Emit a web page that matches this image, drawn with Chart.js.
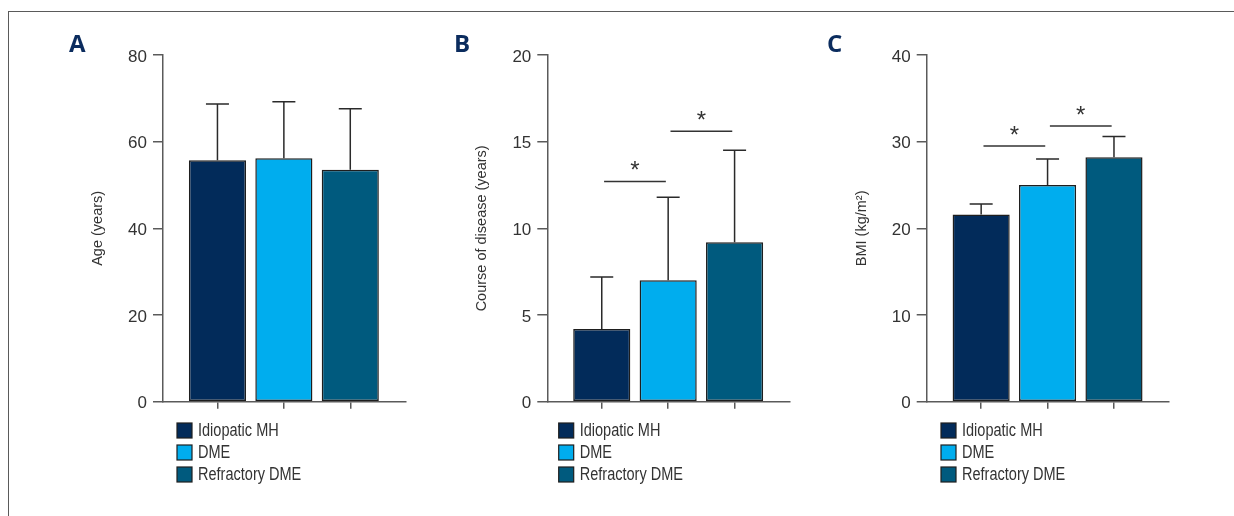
<!DOCTYPE html>
<html><head><meta charset="utf-8">
<script src="https://cdn.jsdelivr.net/npm/chart.js@4.4.0/dist/chart.umd.min.js"></script>
<style>
html,body{margin:0;padding:0;background:#fff;width:1234px;height:516px;overflow:hidden;}
#frame{position:absolute;left:7.5px;top:10.5px;width:1240px;height:520px;border-left:1.5px solid #5a5a5a;border-top:1.5px solid #5a5a5a;}
canvas{position:absolute;top:0;}
</style></head><body>
<div id="frame"></div>
<canvas id="cA" width="400" height="516" style="left:20px"></canvas>
<canvas id="cB" width="400" height="516" style="left:420px"></canvas>
<canvas id="cC" width="424" height="516" style="left:810px"></canvas>
<script>
// ---- data ----
const groups = ['Idiopatic MH', 'DME', 'Refractory DME'];
const ageMean = [55.7, 56.2, 53.5];
const ageSD = [13.0, 13.0, 14.1];
const courseMean = [4.2, 7.0, 9.2];
const courseSD = [3.0, 4.8, 5.3];
const bmiMean = [21.6, 25.0, 28.2];
const bmiSD = [1.2, 3.0, 2.4];
const courseSig = [[0, 1, 12.7], [1, 2, 15.6]];
const bmiSig = [[0, 1, 29.5], [1, 2, 31.8]];
const ageTicks = [0, 20, 40, 60, 80];
const courseTicks = [0, 5, 10, 15, 20];
const bmiTicks = [0, 10, 20, 30, 40];
const groupTicks = [0, 1, 2];

// ---- style ----
const barColors = ['#022b5a', '#00adee', '#005a7e'];
const FONT = "'Liberation Sans',Arial,sans-serif";
const AXIS = '#5a5a5a';
const INK = '#333333';
const SQUEEZE = 0.83;

const extras = {
  id: 'extras',
  afterDatasetsDraw(chart, args, o) {
    const ctx = chart.ctx, xs = chart.scales.x, ys = chart.scales.y;
    ctx.save();
    ctx.strokeStyle = '#2a2a2a';
    ctx.lineWidth = 1.5;
    o.mean.forEach((m, i) => {
      const px = xs.getPixelForValue(groupTicks[i]);
      const y0 = ys.getPixelForValue(m), y1 = ys.getPixelForValue(m + o.sd[i]);
      ctx.beginPath();
      ctx.moveTo(px, y0); ctx.lineTo(px, y1);
      ctx.moveTo(px - 11.5, y1); ctx.lineTo(px + 11.5, y1);
      ctx.stroke();
    });
    (o.sig || []).forEach(([a, b, v]) => {
      const x0 = xs.getPixelForValue(a + 0.035), x1 = xs.getPixelForValue(b - 0.035);
      const py = ys.getPixelForValue(v);
      ctx.strokeStyle = INK;
      ctx.beginPath(); ctx.moveTo(x0, py); ctx.lineTo(x1, py); ctx.stroke();
      ctx.fillStyle = INK;
      ctx.font = "24px 'Liberation Sans',Arial,sans-serif";
      ctx.textAlign = 'center'; ctx.textBaseline = 'alphabetic';
      ctx.fillText('*', (x0 + x1) / 2, py - 3.5);
    });
    // legend
    const lx = chart.chartArea.left + o.legendX;
    groups.forEach((g, i) => {
      const cy = 430.5 + i * 22;
      ctx.fillStyle = barColors[i];
      ctx.fillRect(lx, cy - 7.5, 15, 15);
      ctx.strokeStyle = '#1e1e1e'; ctx.lineWidth = 1.2;
      ctx.strokeRect(lx, cy - 7.5, 15, 15);
      ctx.save();
      ctx.translate(lx + 21, cy + 1);
      ctx.scale(SQUEEZE, 1);
      ctx.font = '17.5px ' + FONT;
      ctx.textAlign = 'left'; ctx.textBaseline = 'middle';
      ctx.fillStyle = INK;
      ctx.fillText(g, 0, 0);
      ctx.restore();
    });
    // panel letter
    ctx.font = "bold 24px 'Open Sans','Liberation Sans',sans-serif";
    ctx.fillStyle = '#0b2c5e';
    ctx.textAlign = 'left';
    ctx.textBaseline = 'middle';
    ctx.fillText(o.letter, o.letterX, 45);
    ctx.restore();
  }
};

function makePanel(id, cl, axisX, titleX, title, mean, sd, yTicks, sig, legendX, letter, letterX) {
  const canvas = document.getElementById(id);
  const W = canvas.width;
  const chartW = 242.4;
  const left = axisX - cl;
  return new Chart(canvas, {
    type: 'bar',
    data: {
      datasets: [{
        data: mean.map((v, i) => ({ x: groupTicks[i], y: v })),
        backgroundColor: barColors,
        borderColor: '#1e1e1e',
        borderWidth: 1.5,
        borderSkipped: false,
        barPercentage: 0.86,
        categoryPercentage: 1
      }]
    },
    options: {
      responsive: false,
      animation: false,
      layout: { padding: { left: 0, top: 55, right: W - left - chartW, bottom: 516 - 401.7 } },
      plugins: {
        legend: { display: false },
        tooltip: { enabled: false },
        extras: { mean, sd, sig, legendX, letter, letterX: letterX - cl }
      },
      scales: {
        x: {
          type: 'linear',
          offset: false,
          min: -0.82, max: 2.83,
          afterBuildTicks: s => { s.ticks = groupTicks.map(v => ({ value: v })); },
          afterFit: s => { s.height = 0; },
          ticks: { display: false },
          grid: { display: true, offset: false, drawOnChartArea: false, drawTicks: true, tickLength: 7, color: AXIS, lineWidth: 1.5 },
          border: { display: true, color: AXIS, width: 1.5 }
        },
        y: {
          min: yTicks[0], max: yTicks[yTicks.length - 1],
          afterBuildTicks: s => { s.ticks = yTicks.map(v => ({ value: v })); },
          afterFit: s => { s.width = left; },
          ticks: { color: INK, font: { family: FONT, size: 17 }, padding: 6, labelOffset: 2 },
          grid: { display: true, drawOnChartArea: false, drawTicks: true, tickLength: 10, color: AXIS, lineWidth: 1.5 },
          border: { display: true, color: AXIS, width: 1.5 },
          title: { display: true, text: title, color: INK, font: { family: FONT, size: 14.5 }, padding: { top: titleX - cl - 8.7, bottom: 0 } }
        }
      }
    },
    plugins: [extras]
  });
}

makePanel('cA', 20, 163, 98, 'Age (years)', ageMean, ageSD, ageTicks, [], 14, 'A', 69);
makePanel('cB', 420, 547.3, 481.7, 'Course of disease (years)', courseMean, courseSD, courseTicks, courseSig, 11.4, 'B', 454);
makePanel('cC', 810, 926.7, 861.7, 'BMI (kg/m²)', bmiMean, bmiSD, bmiTicks, bmiSig, 14.3, 'C', 827);
</script>
</body></html>
